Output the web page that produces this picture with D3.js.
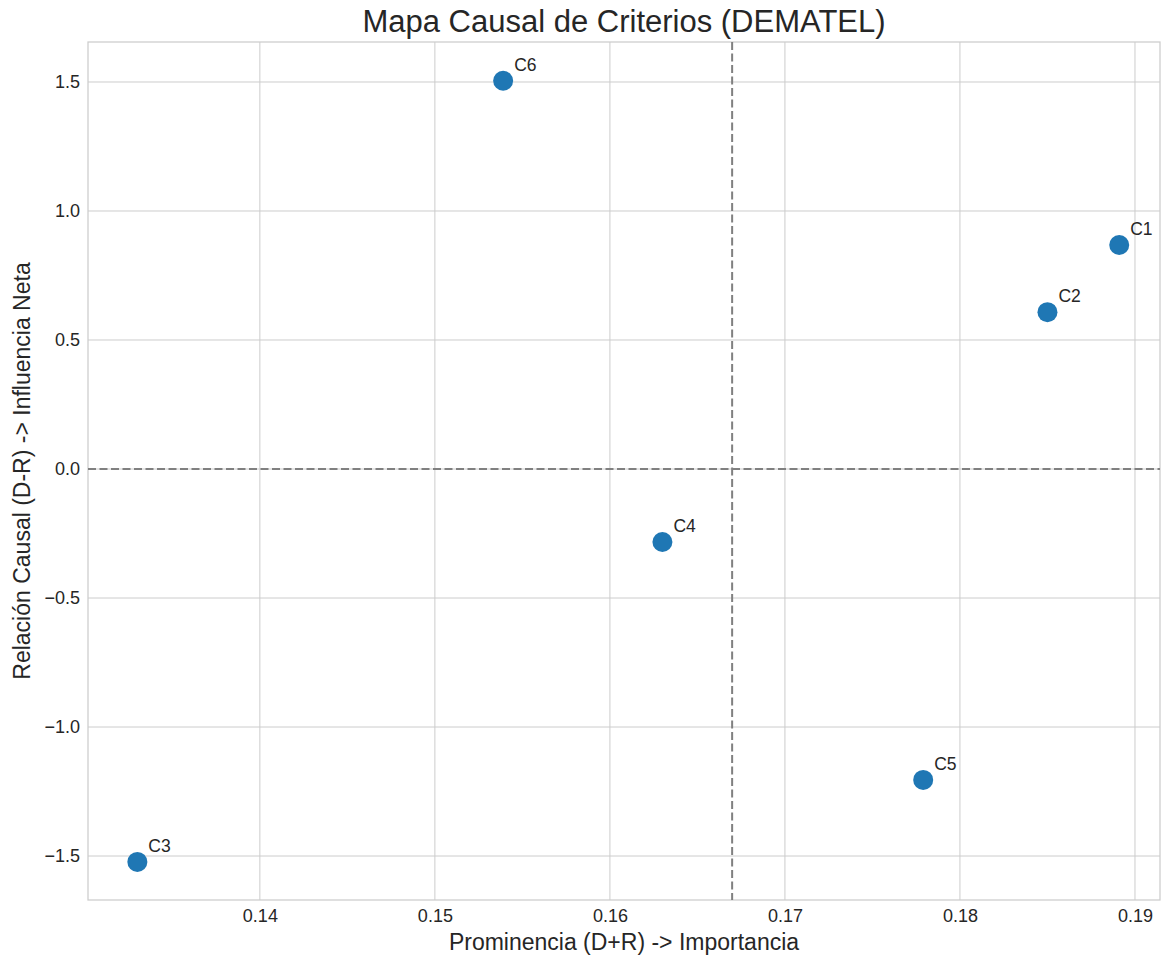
<!DOCTYPE html>
<html>
<head>
<meta charset="utf-8">
<script src="https://cdn.jsdelivr.net/npm/d3@7"></script>
<style>
  body { margin: 0; background: #fff; }
  svg { font-family: "Liberation Sans", Arial, sans-serif; }
  .grid line { stroke: #cccccc; stroke-width: 1; }
  .axis text { fill: #262626; font-size: 18px; }
</style>
</head>
<body>
<div id="chart"></div>
<script>
// criteria, prominence (D+R) and net relation (D-R)
const criteria = ['C1', 'C2', 'C3', 'C4', 'C5', 'C6'];
const prominence = [0.1891, 0.1850, 0.1330, 0.1630, 0.1779, 0.1539];
const relation = [0.868, 0.608, -1.523, -0.283, -1.205, 1.505];
const xTicks = [0.14, 0.15, 0.16, 0.17, 0.18, 0.19];
const yTicks = [-1.5, -1.0, -0.5, 0.0, 0.5, 1.0, 1.5];

const width = 1161, height = 957;
const margin = { top: 42, right: 1, bottom: 57, left: 88 };
const w = width - margin.left - margin.right;
const h = height - margin.top - margin.bottom;

const svg = d3.select('#chart').append('svg')
  .attr('width', width)
  .attr('height', height);

const chart = svg.append('g')
  .attr('transform', `translate(${margin.left}, ${margin.top})`);

// domains padded like matplotlib autoscale
const xScale = d3.scaleLinear().domain([0.13018, 0.19143]).range([0, w]);
const yScale = d3.scaleLinear().domain([-1.6705, 1.655]).range([h, 0]);

// grid
chart.append('g').attr('class', 'grid')
  .selectAll('line').data(xTicks).enter().append('line')
  .attr('x1', d => xScale(d)).attr('x2', d => xScale(d))
  .attr('y1', 0).attr('y2', h);
chart.append('g').attr('class', 'grid')
  .selectAll('line').data(yTicks).enter().append('line')
  .attr('x1', 0).attr('x2', w)
  .attr('y1', d => yScale(d)).attr('y2', d => yScale(d));

// x & y axis (tick labels only, whitegrid style)
chart.append('g')
  .attr('class', 'axis axis-x')
  .attr('transform', `translate(0, ${h})`)
  .call(d3.axisBottom(xScale).tickValues(xTicks).tickSize(0).tickPadding(9).tickFormat(d => d.toFixed(2)));
chart.append('g')
  .attr('class', 'axis axis-y')
  .call(d3.axisLeft(yScale).tickValues(yTicks).tickSize(0).tickPadding(8)
    .tickFormat(d => (d < 0 ? '\u2212' : '') + Math.abs(d).toFixed(1)));
svg.selectAll('.axis .domain').remove();
svg.selectAll('.axis text').attr('font-family', '"Liberation Sans", Arial, sans-serif');

// spines
chart.append('rect')
  .attr('width', w).attr('height', h)
  .attr('fill', 'none')
  .attr('stroke', '#cccccc')
  .attr('stroke-width', 1.25);

// reference lines: D-R = 0 and mean prominence
const meanX = d3.mean(prominence);
chart.append('line')
  .attr('x1', 0).attr('x2', w)
  .attr('y1', yScale(0)).attr('y2', yScale(0))
  .attr('stroke', '#808080').attr('stroke-width', 2)
  .attr('stroke-dasharray', '8,3.5');
chart.append('line')
  .attr('x1', xScale(meanX)).attr('x2', xScale(meanX))
  .attr('y1', 0).attr('y2', h)
  .attr('stroke', '#808080').attr('stroke-width', 2)
  .attr('stroke-dasharray', '8,3.5');

// points
const data = criteria.map((c, i) => ({ label: c, x: prominence[i], y: relation[i] }));
chart.selectAll('.dot').data(data).enter().append('circle')
  .attr('class', 'dot')
  .attr('cx', d => xScale(d.x))
  .attr('cy', d => yScale(d.y))
  .attr('r', 10)
  .attr('fill', '#1f77b4');

chart.selectAll('.lbl').data(data).enter().append('text')
  .attr('class', 'lbl')
  .attr('x', d => xScale(d.x) + 11)
  .attr('y', d => yScale(d.y) - 10)
  .attr('font-size', 17.5)
  .attr('fill', '#262626')
  .text(d => d.label);

// titles
svg.append('text')
  .attr('x', margin.left + w / 2).attr('y', 32)
  .attr('text-anchor', 'middle')
  .attr('font-size', 31)
  .attr('fill', '#262626')
  .text('Mapa Causal de Criterios (DEMATEL)');
svg.append('text')
  .attr('x', margin.left + w / 2).attr('y', 950)
  .attr('text-anchor', 'middle')
  .attr('font-size', 23)
  .attr('fill', '#262626')
  .text('Prominencia (D+R) -> Importancia');
svg.append('text')
  .attr('transform', `translate(30, ${margin.top + h / 2}) rotate(-90)`)
  .attr('text-anchor', 'middle')
  .attr('font-size', 23)
  .attr('fill', '#262626')
  .text('Relación Causal (D-R) -> Influencia Neta');
</script>
</body>
</html>
